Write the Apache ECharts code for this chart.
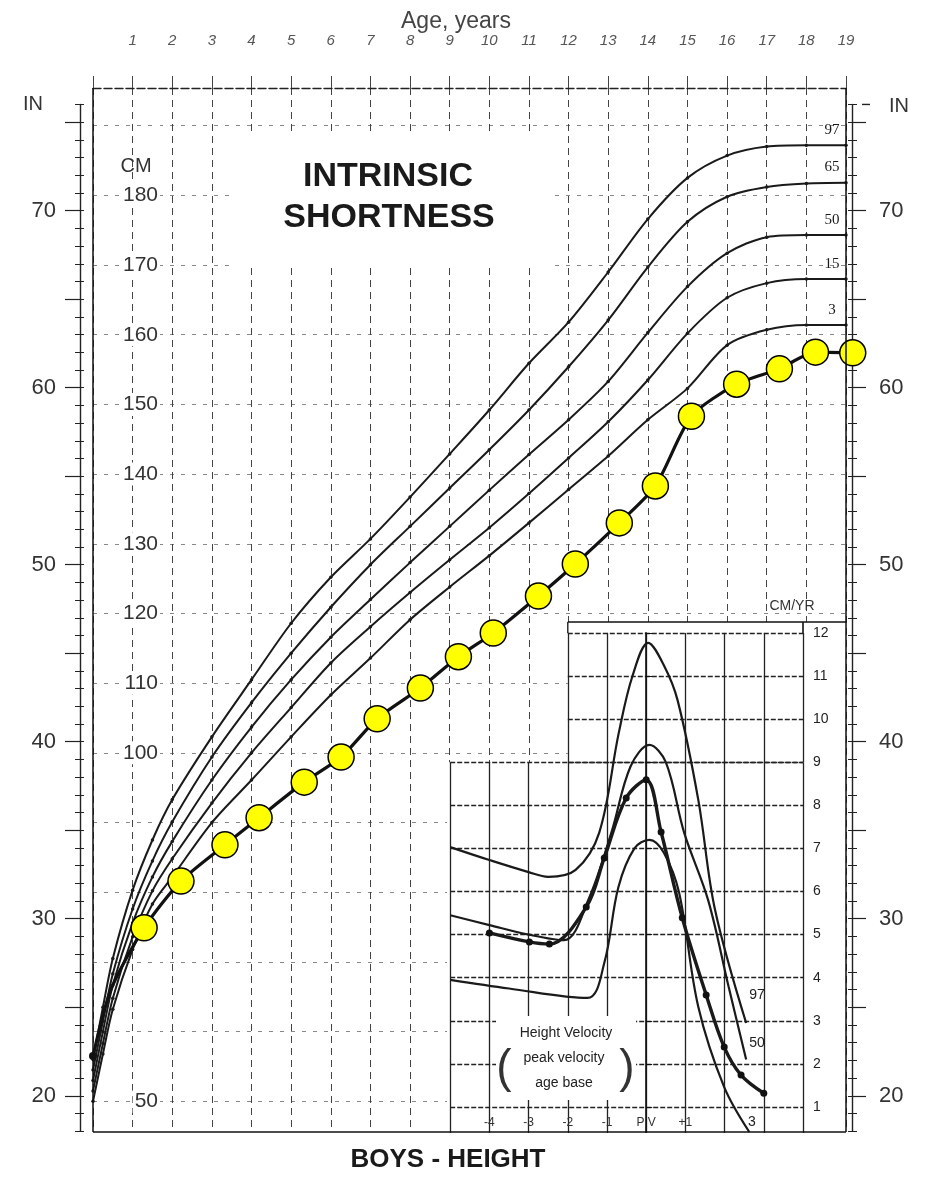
<!DOCTYPE html>
<html><head><meta charset="utf-8">
<script src="https://cdn.jsdelivr.net/npm/echarts/dist/echarts.min.js"></script>
<style>html,body{margin:0;padding:0;background:#fff}#c{width:926px;height:1178px}</style>
</head><body><div id="c"></div>
<script>
// ---------------- DATA ----------------
const ageTickLabels = ['', '1','2','3','4','5','6','7','8','9','10','11','12','13','14','15','16','17','18','19'];
const pctAges = [0, 0.25, 0.5, 1, 1.5, 2, 3, 4, 5, 6, 7, 8, 9, 10, 11, 12, 13, 14, 15, 16, 17, 18, 19];
const p97 = [56.0, 63.5, 70.5, 80.3, 87.5, 93.3, 102.3, 110.5, 118.6, 125.2, 130.7, 136.7, 142.9, 149.2, 155.9, 161.8, 169.0, 176.6, 182.5, 185.7, 187.0, 187.2, 187.2];
const p65 = [54.5, 61.5, 68.3, 77.6, 84.5, 90.1, 99.4, 107.2, 114.3, 120.9, 127.0, 132.5, 138.0, 143.5, 149.2, 155.4, 162.1, 169.7, 176.2, 179.8, 181.2, 181.7, 181.8];
const p50 = [53.0, 60.0, 66.7, 75.6, 82.2, 87.3, 96.1, 103.7, 110.5, 116.6, 122.0, 127.3, 132.5, 137.7, 142.8, 147.8, 153.3, 160.3, 166.9, 171.7, 174.0, 174.3, 174.3];
const p15 = [51.5, 58.3, 64.8, 73.6, 80.2, 84.8, 92.8, 100.0, 106.5, 112.9, 118.1, 123.0, 127.7, 132.3, 137.2, 142.3, 147.5, 153.5, 160.2, 165.3, 167.4, 168.0, 168.0];
const p3  = [50.0, 56.8, 63.2, 71.8, 78.3, 82.2, 90.0, 96.1, 102.3, 108.3, 113.6, 119.1, 123.8, 128.3, 133.0, 137.8, 142.6, 147.8, 152.3, 158.5, 160.7, 161.4, 161.4];
const pctNames = ['97', '65', '50', '15', '3'];

const patientAges = [0, 0.45, 1.29, 2.22, 3.33, 4.19, 5.33, 6.26, 7.17, 8.26, 9.22, 10.1, 11.24, 12.17, 13.28, 14.19, 15.1, 16.24, 17.32, 18.23, 19.17];
const patientCm   = [56.5, 66.0, 74.9, 81.6, 86.8, 90.7, 95.8, 99.4, 104.9, 109.3, 113.8, 117.2, 122.5, 127.1, 133.0, 138.3, 148.3, 152.9, 155.1, 157.5, 157.4];

const cmTickLabels = {50:'50', 100:'100', 110:'110', 120:'120', 130:'130', 140:'140', 150:'150', 160:'160', 170:'170', 180:'180'};
const inTickLabels = {20:'20', 30:'30', 40:'40', 50:'50', 60:'60', 70:'70'};

// inset: height velocity (cm/yr) vs years from peak velocity
const insetTickValues = [-4, -3, -2, -1, 0, 1];
const insetTickLabels = ['-4', '-3', '-2', '-1', 'P V', '+1'];
const vel97T = [-5, -4, -3, -2.5, -1.8, -1.2, -0.7, -0.35, 0.05, 0.45, 0.8, 1.33, 1.75, 2.55];
const vel97V = [7.03, 6.73, 6.45, 6.34, 6.5, 7.36, 9.68, 11.0, 11.77, 11.25, 10.44, 8.12, 5.6, 2.95];
const vel50T = [-5, -4, -3, -2.1, -1.48, -0.89, -0.4, 0.08, 0.5, 0.97, 1.58, 2.1, 2.55];
const vel50V = [5.45, 5.22, 5.0, 4.87, 5.8, 7.36, 8.9, 9.4, 9.0, 7.36, 5.8, 3.8, 2.1];
const velPatT = [-4.0, -2.98, -2.47, -1.53, -1.07, -0.51, 0, 0.38, 0.92, 1.53, 1.99, 2.42, 3.0];
const velPatV = [5.04, 4.83, 4.78, 5.64, 6.78, 8.17, 8.59, 7.38, 5.39, 3.6, 2.39, 1.74, 1.32];
const vel3T = [-5, -3.5, -1.5, -1.07, -0.71, -0.3, 0.08, 0.45, 0.84, 1.33, 1.99, 2.63];
const vel3V = [3.95, 3.75, 3.53, 4.34, 6.1, 7.0, 7.2, 6.9, 5.97, 3.32, 1.46, 0.42];
const velTickLabels = ['', '1','2','3','4','5','6','7','8','9','10','11','12'];

// ---------------- LAYOUT ----------------
const G = {left: 93, right: 846, top: 88, bottom: 1132};
const CM_MIN = 45.6, CM_MAX = 195.4;
const cmPx = cm => G.top + (CM_MAX - cm) / (CM_MAX - CM_MIN) * (G.bottom - G.top);
const inPx = inch => cmPx(inch * 2.54);
const vPx = v => 1107 - (v - 1) * 43.1;
const IN_R = 803, TPX = 39.2;
const tPx = t => IN_R - (4 - t) * TPX;
const FONT = '"Liberation Sans", Arial, sans-serif';
const INK = '#1a1a1a';
const LEFT_IN_X = 80, RIGHT_IN_X = 862;

const chart = echarts.init(document.getElementById('c'));

const pctSets = [p97, p65, p50, p15, p3];
const pctSeries = pctSets.map((arr, k) => ({
  type: 'line', xAxisIndex: 0, yAxisIndex: 0, smooth: 0.3, z: 2,
  symbol: 'circle', symbolSize: 3.5,
  itemStyle: {color: INK},
  lineStyle: {color: INK, width: 2},
  data: pctAges.map((a, i) => {
    const item = {value: [a, arr[i]]};
    if (i === pctAges.length - 1) {
      item.label = {show: true, formatter: pctNames[k], position: 'top', offset: [-14, -1],
        fontSize: 15, color: INK, fontFamily: '"Liberation Serif", serif'};
    }
    return item;
  })
}));

const patientSeries = {
  type: 'line', xAxisIndex: 0, yAxisIndex: 0, smooth: 0.25, z: 3, clip: false,
  lineStyle: {color: '#111', width: 3.2},
  data: patientAges.map((a, i) => {
    if (i === 0) return {value: [a, patientCm[i]], symbol: 'circle', symbolSize: 8, itemStyle: {color: '#111', borderWidth: 0}};
    if (i === 1) return {value: [a, patientCm[i]], symbol: 'none'};
    return {value: [a, patientCm[i]], symbol: 'circle', symbolSize: 26,
      itemStyle: {color: '#ffff00', borderColor: '#000', borderWidth: 1.5}};
  })
};

const INSET = 8;
const insetLine = (T, V, w, extra) => Object.assign({
  type: 'line', xAxisIndex: INSET, yAxisIndex: INSET, smooth: 0.35, clip: false, z: 4,
  symbol: 'none', lineStyle: {color: INK, width: w},
  data: T.map((t, i) => [t, V[i]])
}, extra || {});

// inch-scale tick axes: each in its own grid so they overlap exactly
const inGrid = (x, lo, hi) => ({left: x, width: 10, top: inPx(hi), height: inPx(lo) - inPx(hi)});
const inAxis = (gi, pos, o) => Object.assign({
  gridIndex: gi, type: 'value', position: pos,
  axisLine: {show: false}, axisLabel: {show: false}, splitLine: {show: false}
}, o);
const hiddenX = gi => ({gridIndex: gi, type: 'value', min: 0, max: 1, show: false});
const edge = (x1, y1, x2, y2, w) => ({type: 'line', z: 6, shape: {x1, y1, x2, y2}, style: {stroke: '#111', lineWidth: w || 1.5}});

const option = {
  backgroundColor: '#fff',
  animation: false,
  textStyle: {fontFamily: FONT},
  grid: [
    {left: G.left, width: G.right - G.left, top: G.top, height: G.bottom - G.top},
    {left: G.left, width: G.right - G.left, top: cmPx(190), height: cmPx(50) - cmPx(190)},
    inGrid(LEFT_IN_X, 18, 76), inGrid(LEFT_IN_X, 18, 76), inGrid(LEFT_IN_X, 20, 75),
    inGrid(RIGHT_IN_X - 10, 18, 76), inGrid(RIGHT_IN_X - 10, 18, 76), inGrid(RIGHT_IN_X - 10, 20, 75),
    {left: tPx(-5), width: tPx(4) - tPx(-5), top: vPx(9), height: vPx(0) - vPx(9)},
    {left: tPx(-2), width: tPx(4) - tPx(-2), top: vPx(12), height: vPx(9) - vPx(12)}
  ],
  xAxis: [
    {gridIndex: 0, type: 'value', min: 0, max: 19, interval: 1, position: 'top',
      axisLine: {show: true, lineStyle: {color: '#222', width: 1.4, type: [8, 3]}},
      axisTick: {show: true, length: 12, lineStyle: {color: '#444'}},
      axisLabel: {margin: 40, fontSize: 15, color: '#555', fontStyle: 'italic',
        formatter: v => ageTickLabels[v] || ''},
      splitLine: {show: true, lineStyle: {color: '#444', width: 1, type: [7, 5]}}},
    {gridIndex: 1, type: 'value', min: 0, max: 19, show: false},
    hiddenX(2), hiddenX(3), hiddenX(4), hiddenX(5), hiddenX(6), hiddenX(7),
    {gridIndex: 8, type: 'value', min: -5, max: 4, interval: 1, position: 'bottom', z: 3,
      axisLine: {show: false}, axisTick: {show: false},
      axisLabel: {inside: true, margin: 21, fontSize: 12, color: '#333',
        formatter: v => { const k = insetTickValues.indexOf(v); return k >= 0 ? insetTickLabels[k] : ''; }},
      splitLine: {show: true, lineStyle: {color: '#222', width: 1.3}}},
    {gridIndex: 9, type: 'value', min: -2, max: 4, interval: 1, z: 3,
      axisLine: {show: false}, axisTick: {show: false}, axisLabel: {show: false},
      splitLine: {show: true, lineStyle: {color: '#222', width: 1.3}}}
  ],
  yAxis: [
    {gridIndex: 0, type: 'value', min: CM_MIN, max: CM_MAX, show: false},
    {gridIndex: 1, type: 'value', min: 50, max: 190, interval: 10, position: 'left',
      axisLine: {show: false}, axisTick: {show: false},
      axisLabel: {inside: true, align: 'right', margin: 67, fontSize: 21, color: '#333',
        backgroundColor: '#fff', padding: [1, 2],
        formatter: v => cmTickLabels[v] || ''},
      splitLine: {show: true, lineStyle: {color: '#888', width: 1, type: [4, 7]}}},
    // left IN axis
    inAxis(2, 'left', {min: 18, max: 76, interval: 1,
      axisLine: {show: true, lineStyle: {color: '#222', width: 1.4}},
      axisTick: {show: true, length: 5, lineStyle: {color: '#222'}}}),
    inAxis(3, 'left', {min: 18, max: 76, interval: 1,
      axisTick: {show: true, inside: true, length: 4, lineStyle: {color: '#222'}}}),
    inAxis(4, 'left', {min: 20, max: 75, interval: 5,
      axisTick: {show: true, length: 15, lineStyle: {color: '#222', width: 1.2}},
      axisLabel: {show: true, margin: 24, fontSize: 22, color: '#333', formatter: v => inTickLabels[v] || ''}}),
    // right IN axis
    inAxis(5, 'right', {min: 18, max: 76, interval: 1,
      axisLine: {show: true, lineStyle: {color: '#222', width: 1.4}},
      axisTick: {show: true, length: 5, lineStyle: {color: '#222'}}}),
    inAxis(6, 'right', {min: 18, max: 76, interval: 1,
      axisTick: {show: true, inside: true, length: 4, lineStyle: {color: '#222'}}}),
    inAxis(7, 'right', {min: 20, max: 75, interval: 5,
      axisTick: {show: true, length: 14, lineStyle: {color: '#222', width: 1.2}},
      axisLabel: {show: true, margin: 17, fontSize: 22, color: '#333', formatter: v => inTickLabels[v] || ''}}),
    // inset velocity axes
    {gridIndex: 8, type: 'value', min: 0, max: 9, interval: 1, position: 'right', z: 3,
      axisLine: {show: true, lineStyle: {color: '#111', width: 1.6}},
      axisTick: {show: true, length: 6, lineStyle: {color: '#111'}},
      axisLabel: {margin: 10, fontSize: 14, color: '#222', formatter: v => velTickLabels[v] || ''},
      splitLine: {show: true, lineStyle: {color: '#222', width: 1.3, type: [5, 2]}}},
    {gridIndex: 9, type: 'value', min: 9, max: 12, interval: 1, position: 'right', z: 3,
      axisLine: {show: true, lineStyle: {color: '#111', width: 1.6}},
      axisTick: {show: true, length: 6, lineStyle: {color: '#111'}},
      axisLabel: {margin: 10, fontSize: 14, color: '#222', formatter: v => v > 9 ? velTickLabels[v] : ''},
      splitLine: {show: true, lineStyle: {color: '#222', width: 1.3, type: [5, 2]}}}
  ],
  series: pctSeries.concat([
    patientSeries,
    insetLine(vel97T, vel97V, 2.2),
    insetLine(vel50T, vel50V, 2.2),
    insetLine(vel3T, vel3V, 2.2),
    insetLine(velPatT, velPatV, 3.4, {symbol: 'circle', symbolSize: 7, itemStyle: {color: '#111'}})
  ]),
  graphic: [
    // title box cover
    {type: 'rect', z: 1, shape: {x: 236, y: 133, width: 312, height: 135}, style: {fill: '#fff'}},
    // inset cover (L-shape)
    {type: 'polygon', z: 1, shape: {points: [[447, vPx(9)], [tPx(-2), vPx(9)], [tPx(-2), 622], [845, 622], [845, G.bottom], [447, G.bottom]]}, style: {fill: '#fff'}},
    // main frame (left, right, bottom)
    edge(G.left, G.top, G.left, G.bottom),
    edge(G.right, G.top, G.right, G.bottom),
    edge(G.left, G.bottom, G.right, G.bottom),
    // inset frames
    edge(tPx(-2), 622, G.right, 622),
    edge(tPx(-2), 622, tPx(-2), vPx(12), 1.3),
    edge(IN_R, 622, IN_R, vPx(12), 1.6),
    // right IN axis top hook
    {type: 'line', z: 6, shape: {x1: RIGHT_IN_X, y1: inPx(76), x2: RIGHT_IN_X + 8, y2: inPx(76)}, style: {stroke: '#222', lineWidth: 1.4}},
    // bottom cover below the plot
    {type: 'rect', z: 10, shape: {x: 440, y: G.bottom + 1, width: 420, height: 22}, style: {fill: '#fff'}},
    // inset text box
    {type: 'rect', z: 5, shape: {x: 496, y: 1016, width: 140, height: 84}, style: {fill: '#fff'}},
    {type: 'text', z: 6, style: {text: 'Height Velocity', x: 566, y: 1033, fontSize: 14, fill: '#222', align: 'center', verticalAlign: 'middle', fontFamily: FONT}},
    {type: 'text', z: 6, style: {text: 'peak velocity', x: 564, y: 1058, fontSize: 14, fill: '#222', align: 'center', verticalAlign: 'middle', fontFamily: FONT}},
    {type: 'text', z: 6, style: {text: 'age base', x: 564, y: 1083, fontSize: 14, fill: '#222', align: 'center', verticalAlign: 'middle', fontFamily: FONT}},
    {type: 'text', z: 6, style: {text: '(', x: 504, y: 1069, fontSize: 46, fill: '#333', align: 'center', verticalAlign: 'middle', fontFamily: FONT, fontWeight: 'lighter'}},
    {type: 'text', z: 6, style: {text: ')', x: 627, y: 1069, fontSize: 46, fill: '#333', align: 'center', verticalAlign: 'middle', fontFamily: FONT, fontWeight: 'lighter'}},
    {type: 'text', z: 6, style: {text: 'CM/YR', x: 792, y: 606, fontSize: 14, fill: '#333', align: 'center', verticalAlign: 'middle', fontFamily: FONT}},
    {type: 'text', z: 6, style: {text: '97', x: 757, y: 995, fontSize: 14, fill: '#222', align: 'center', verticalAlign: 'middle', fontFamily: FONT}},
    {type: 'text', z: 6, style: {text: '50', x: 757, y: 1043, fontSize: 14, fill: '#222', align: 'center', verticalAlign: 'middle', fontFamily: FONT}},
    {type: 'text', z: 6, style: {text: '3', x: 752, y: 1122, fontSize: 14, fill: '#222', align: 'center', verticalAlign: 'middle', fontFamily: FONT}},
    // titles
    {type: 'text', z: 6, style: {text: 'INTRINSIC', x: 388, y: 177, fontSize: 34, fill: '#1a1a1a', align: 'center', verticalAlign: 'middle', fontFamily: FONT, fontWeight: 'bold'}},
    {type: 'text', z: 6, style: {text: 'SHORTNESS', x: 389, y: 218, fontSize: 34, fill: '#1a1a1a', align: 'center', verticalAlign: 'middle', fontFamily: FONT, fontWeight: 'bold'}},
    {type: 'text', z: 20, style: {text: 'BOYS - HEIGHT', x: 448, y: 1160, fontSize: 26, fill: '#1a1a1a', align: 'center', verticalAlign: 'middle', fontFamily: FONT, fontWeight: 'bold'}},
    {type: 'text', z: 6, style: {text: 'Age, years', x: 456, y: 22, fontSize: 23, fill: '#444', align: 'center', verticalAlign: 'middle', fontFamily: FONT}},
    {type: 'text', z: 6, style: {text: 'IN', x: 33, y: 104, fontSize: 20, fill: '#333', align: 'center', verticalAlign: 'middle', fontFamily: FONT}},
    {type: 'text', z: 6, style: {text: 'IN', x: 899, y: 106, fontSize: 20, fill: '#333', align: 'center', verticalAlign: 'middle', fontFamily: FONT}},
    {type: 'text', z: 6, style: {text: 'CM', x: 136, y: 166, fontSize: 20, fill: '#333', align: 'center', verticalAlign: 'middle', fontFamily: FONT}}
  ]
};
chart.setOption(option);
</script>
</body></html>
